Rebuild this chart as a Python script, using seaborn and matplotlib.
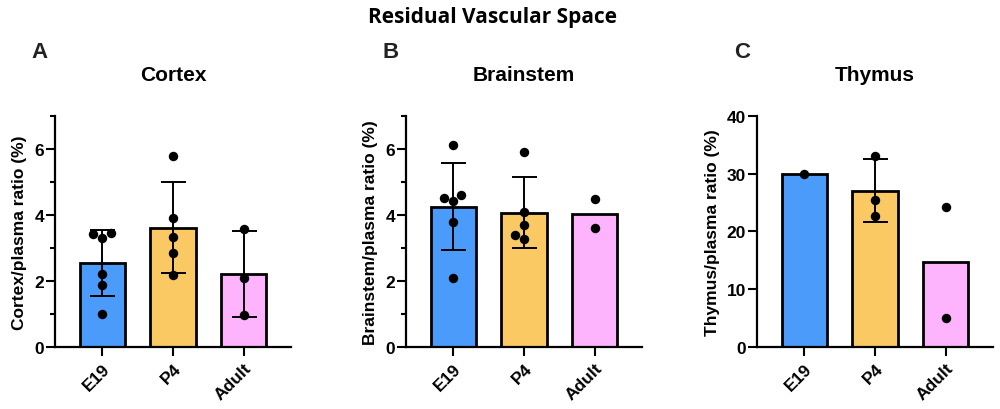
import matplotlib
matplotlib.use("Agg")
import matplotlib.pyplot as plt
from matplotlib.ticker import MultipleLocator
import seaborn as sns
import pandas as pd

groups = ["E19", "P4", "Adult"]
colors = ["#4b9bfa", "#fbc964", "#fdb4fd"]

# individual values per group
cortex_e19 = [3.45, 3.30, 3.41, 2.21, 1.89, 1.01]
cortex_p4 = [5.79, 3.91, 3.34, 2.86, 2.17]
cortex_adult = [3.56, 2.09, 0.98]

brainstem_e19 = [6.12, 4.50, 4.60, 4.42, 3.78, 2.10]
brainstem_p4 = [5.90, 4.09, 3.70, 3.26, 3.40]
brainstem_adult = [4.47, 3.59]

thymus_e19 = [30.0]
thymus_p4 = [33.1, 25.4, 22.7]
thymus_adult = [24.3, 5.05]

panels = [
    ("A", "Cortex", "Cortex/plasma ratio (%)", [cortex_e19, cortex_p4, cortex_adult], 7, 2),
    ("B", "Brainstem", "Brainstem/plasma ratio (%)", [brainstem_e19, brainstem_p4, brainstem_adult], 7, 2),
    ("C", "Thymus", "Thymus/plasma ratio (%)", [thymus_e19, thymus_p4, thymus_adult], 40, 10),
]

sns.set_theme(style="ticks")
plt.rcParams["font.family"] = ["Liberation Sans", "DejaVu Sans"]
plt.rcParams["font.weight"] = "bold"
for key in ["text.color", "axes.labelcolor", "xtick.color", "ytick.color", "axes.edgecolor"]:
    plt.rcParams[key] = "black"

fig = plt.figure(figsize=(10, 4.1), dpi=100)
lefts = [0.055, 0.406, 0.757]

for (letter, title, ylabel, values, ymax, step), left in zip(panels, lefts):
    ax = fig.add_axes([left, 0.151, 0.236, 0.564])
    df = pd.DataFrame({
        "group": [g for g, v in zip(groups, values) for _ in v],
        "value": [x for v in values for x in v],
    })

    sns.barplot(data=df, x="group", y="value", hue="group", order=groups,
                palette=colors, saturation=1, errorbar=None, width=0.64,
                edgecolor="black", linewidth=2, legend=False, ax=ax, zorder=1)

    # SD error bars, only for groups with n >= 3
    stats = df.groupby("group", sort=False)["value"].agg(["mean", "std", "count"])
    for i, g in enumerate(groups):
        if stats.loc[g, "count"] >= 3:
            ax.errorbar(i, stats.loc[g, "mean"], yerr=stats.loc[g, "std"],
                        color="black", capsize=9, elinewidth=1.4,
                        capthick=1.4, zorder=2)

    sns.swarmplot(data=df, x="group", y="value", order=groups, color="black",
                  size=6.8, ax=ax, zorder=3)

    ax.set_xlim(-0.67, 2.67)
    ax.set_ylim(0, ymax)
    ax.yaxis.set_major_locator(MultipleLocator(step))
    if ymax == 7:
        ax.yaxis.set_minor_locator(MultipleLocator(1))
    sns.despine(ax=ax)
    for s in ["left", "bottom"]:
        ax.spines[s].set_linewidth(1.6)
    ax.tick_params(axis="both", which="major", length=6.5, width=1.5, labelsize=12.5)
    ax.tick_params(axis="y", which="minor", length=3.5, width=1.5)
    ax.tick_params(axis="y", which="major", pad=1.5)
    ax.tick_params(axis="x", pad=3)
    plt.setp(ax.get_xticklabels(), rotation=45, ha="right",
             rotation_mode="anchor", fontweight="bold")
    plt.setp(ax.get_yticklabels(), fontweight="bold")

    ax.set_xlabel("")
    ax.set_ylabel(ylabel, fontsize=12.5, fontweight="bold", labelpad=5)
    ax.set_title(title, fontsize=15, fontweight="bold", pad=26)

    fig.text(left - 0.015, 0.873, letter, fontsize=16, fontweight="bold",
             color="#222222", ha="center", va="center")

fig.suptitle("Residual Vascular Space", x=0.493, y=0.958, va="center",
             fontsize=15, fontweight="bold", family=["Open Sans", "DejaVu Sans"])

fig.savefig("out.png", dpi=100)
